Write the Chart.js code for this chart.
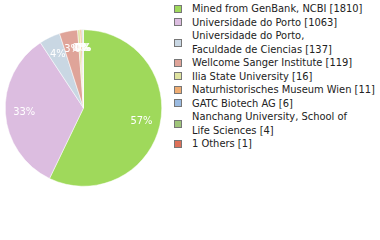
<!DOCTYPE html>
<html>
<head>
<meta charset="utf-8">
<script src="https://cdn.jsdelivr.net/npm/chart.js@4.4.0/dist/chart.umd.min.js"></script>
<style>
  body { margin: 0; background: #fff; width: 380px; height: 240px; overflow: hidden; position: relative; }
  #pieBox { position: absolute; left: 0; top: 0; width: 167px; height: 216px; }
  #legend { position: absolute; left: 174px; top: 2px; font-family: "DejaVu Sans Condensed", "DejaVu Sans", sans-serif; font-size: 11px; color: #222; white-space: nowrap; }
  .item { display: flex; align-items: center; line-height: 13.5px; }
  .sw { width: 6px; height: 6px; border: 1px solid #777; margin-right: 10px; flex: none; }
</style>
</head>
<body>
<div id="pieBox"><canvas id="pie"></canvas></div>
<div id="legend"></div>
<script>
const labels = [
  ['Mined from GenBank, NCBI [1810]'],
  ['Universidade do Porto [1063]'],
  ['Universidade do Porto,', 'Faculdade de Ciencias [137]'],
  ['Wellcome Sanger Institute [119]'],
  ['Ilia State University [16]'],
  ['Naturhistorisches Museum Wien [11]'],
  ['GATC Biotech AG [6]'],
  ['Nanchang University, School of', 'Life Sciences [4]'],
  ['1 Others [1]']
];
const counts = [1810, 1063, 137, 119, 16, 11, 6, 4, 1];
const colors = ['#9fd95b', '#dcbde0', '#c9d7e3', '#dfa499', '#dfe3a0', '#f0ad72', '#9bbbe1', '#9fc57a', '#de7058'];

// legend as plain html text
const legend = document.getElementById('legend');
labels.forEach(function(lines, i) {
    const row = document.createElement('div');
    row.className = 'item';
    const sw = document.createElement('span');
    sw.className = 'sw';
    sw.style.background = colors[i];
    const txt = document.createElement('span');
    txt.innerHTML = lines.join('<br>');
    row.appendChild(sw);
    row.appendChild(txt);
    legend.appendChild(row);
});

const total = counts.reduce((a, b) => a + b, 0);

const percentLabels = {
    id: 'percentLabels',
    afterDatasetsDraw(chart) {
        const ctx = chart.ctx;
        const arcs = chart.getDatasetMeta(0).data;
        ctx.save();
        ctx.font = '11px "DejaVu Sans Condensed", "DejaVu Sans", sans-serif';
        ctx.fillStyle = '#fff';
        ctx.textAlign = 'center';
        ctx.textBaseline = 'middle';
        arcs.forEach(function(arc, i) {
            const p = arc.getProps(['x', 'y', 'startAngle', 'endAngle', 'outerRadius'], true);
            const mid = (p.startAngle + p.endAngle) / 2;
            const r = p.outerRadius * 0.76;
            const pct = Math.floor(counts[i] / total * 100);
            ctx.fillText(pct + '%', p.x + Math.cos(mid) * r, p.y + Math.sin(mid) * r);
        });
        ctx.restore();
    }
};

new Chart(document.getElementById('pie'), {
    type: 'pie',
    data: {
        labels: labels.map(l => l.join(' ')),
        datasets: [{
            data: counts,
            backgroundColor: colors,
            borderColor: '#fff',
            borderWidth: 0.5
        }]
    },
    options: {
        responsive: true,
        maintainAspectRatio: false,
        animation: false,
        layout: { padding: 5 },
        plugins: {
            legend: { display: false },
            tooltip: { enabled: false }
        }
    },
    plugins: [percentLabels]
});
</script>
</body>
</html>
